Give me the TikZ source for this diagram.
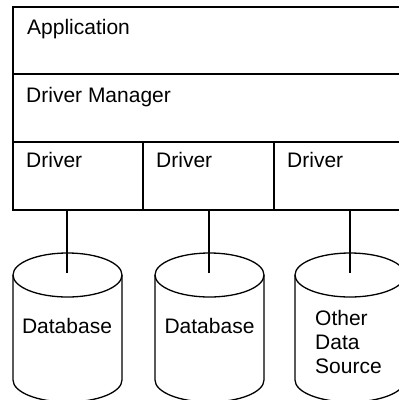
\documentclass[tikz,border=0pt]{standalone}
\usepackage{fontspec}
\setmainfont{Liberation Sans}
\begin{document}
\begin{tikzpicture}[x=1pt,y=-1pt,
  box/.style={draw,line width=1.3pt,anchor=north west,inner sep=0pt,outer sep=0pt},
  lbl/.style={anchor=base west,inner sep=0pt,font=\fontsize{21}{24}\selectfont},
  dblbl/.style={anchor=base,inner sep=0pt,font=\fontsize{21}{24}\selectfont},
  cyl/.style={line width=1.3pt},
  conn/.style={line width=2pt}]
\useasboundingbox (0,0) rectangle (399,400);
% boxes
\node[box,minimum width=388pt,minimum height=67pt] (app) at (13,7) {};
\node[box,minimum width=388pt,minimum height=68pt] (dm) at (13,74) {};
\node[box,minimum width=130pt,minimum height=68pt] (d1) at (13,142) {};
\node[box,minimum width=131pt,minimum height=68pt] (d2) at (143,142) {};
\node[box,minimum width=127pt,minimum height=68pt] (d3) at (274,142) {};
% labels
\node[lbl] (tapp) at (27,34) {Application};
\node[lbl] (tdm) at (26,102) {Driver Manager};
\node[lbl] (td1) at (26,167) {Driver};
\node[lbl] (td2) at (156,167) {Driver};
\node[lbl] (td3) at (287,167) {Driver};
% cylinders
\foreach \cx/\rx/\nm in {67.5/54.5/db1, 209.5/54.5/db2, 350/55/db3}{
  \draw[cyl,fill=white] (\cx-\rx,275) -- (\cx-\rx,380)
     arc[start angle=180,end angle=360,x radius=\rx pt,y radius=22pt]
     -- (\cx+\rx,275);
  \draw[cyl] (\cx,275) ellipse [x radius=\rx pt,y radius=22pt];
  \coordinate (\nm) at (\cx,273);
}
\node[dblbl] (tdb1) at (67,333) {Database};
\node[dblbl] (tdb2) at (209.5,333) {Database};
\node[anchor=base west,inner sep=0pt,align=left,font=\fontsize{21}{24}\selectfont] (tdb3) at (315,373) {Other\\Data\\Source};
% connectors
\coordinate (c1) at (67,210);
\coordinate (c2) at (209,210);
\coordinate (c3) at (350,210);
\draw[conn] (c1) -- (c1 |- db1);
\draw[conn] (c2) -- (c2 |- db2);
\draw[conn] (c3) -- (c3 |- db3);
\end{tikzpicture}
\end{document}
